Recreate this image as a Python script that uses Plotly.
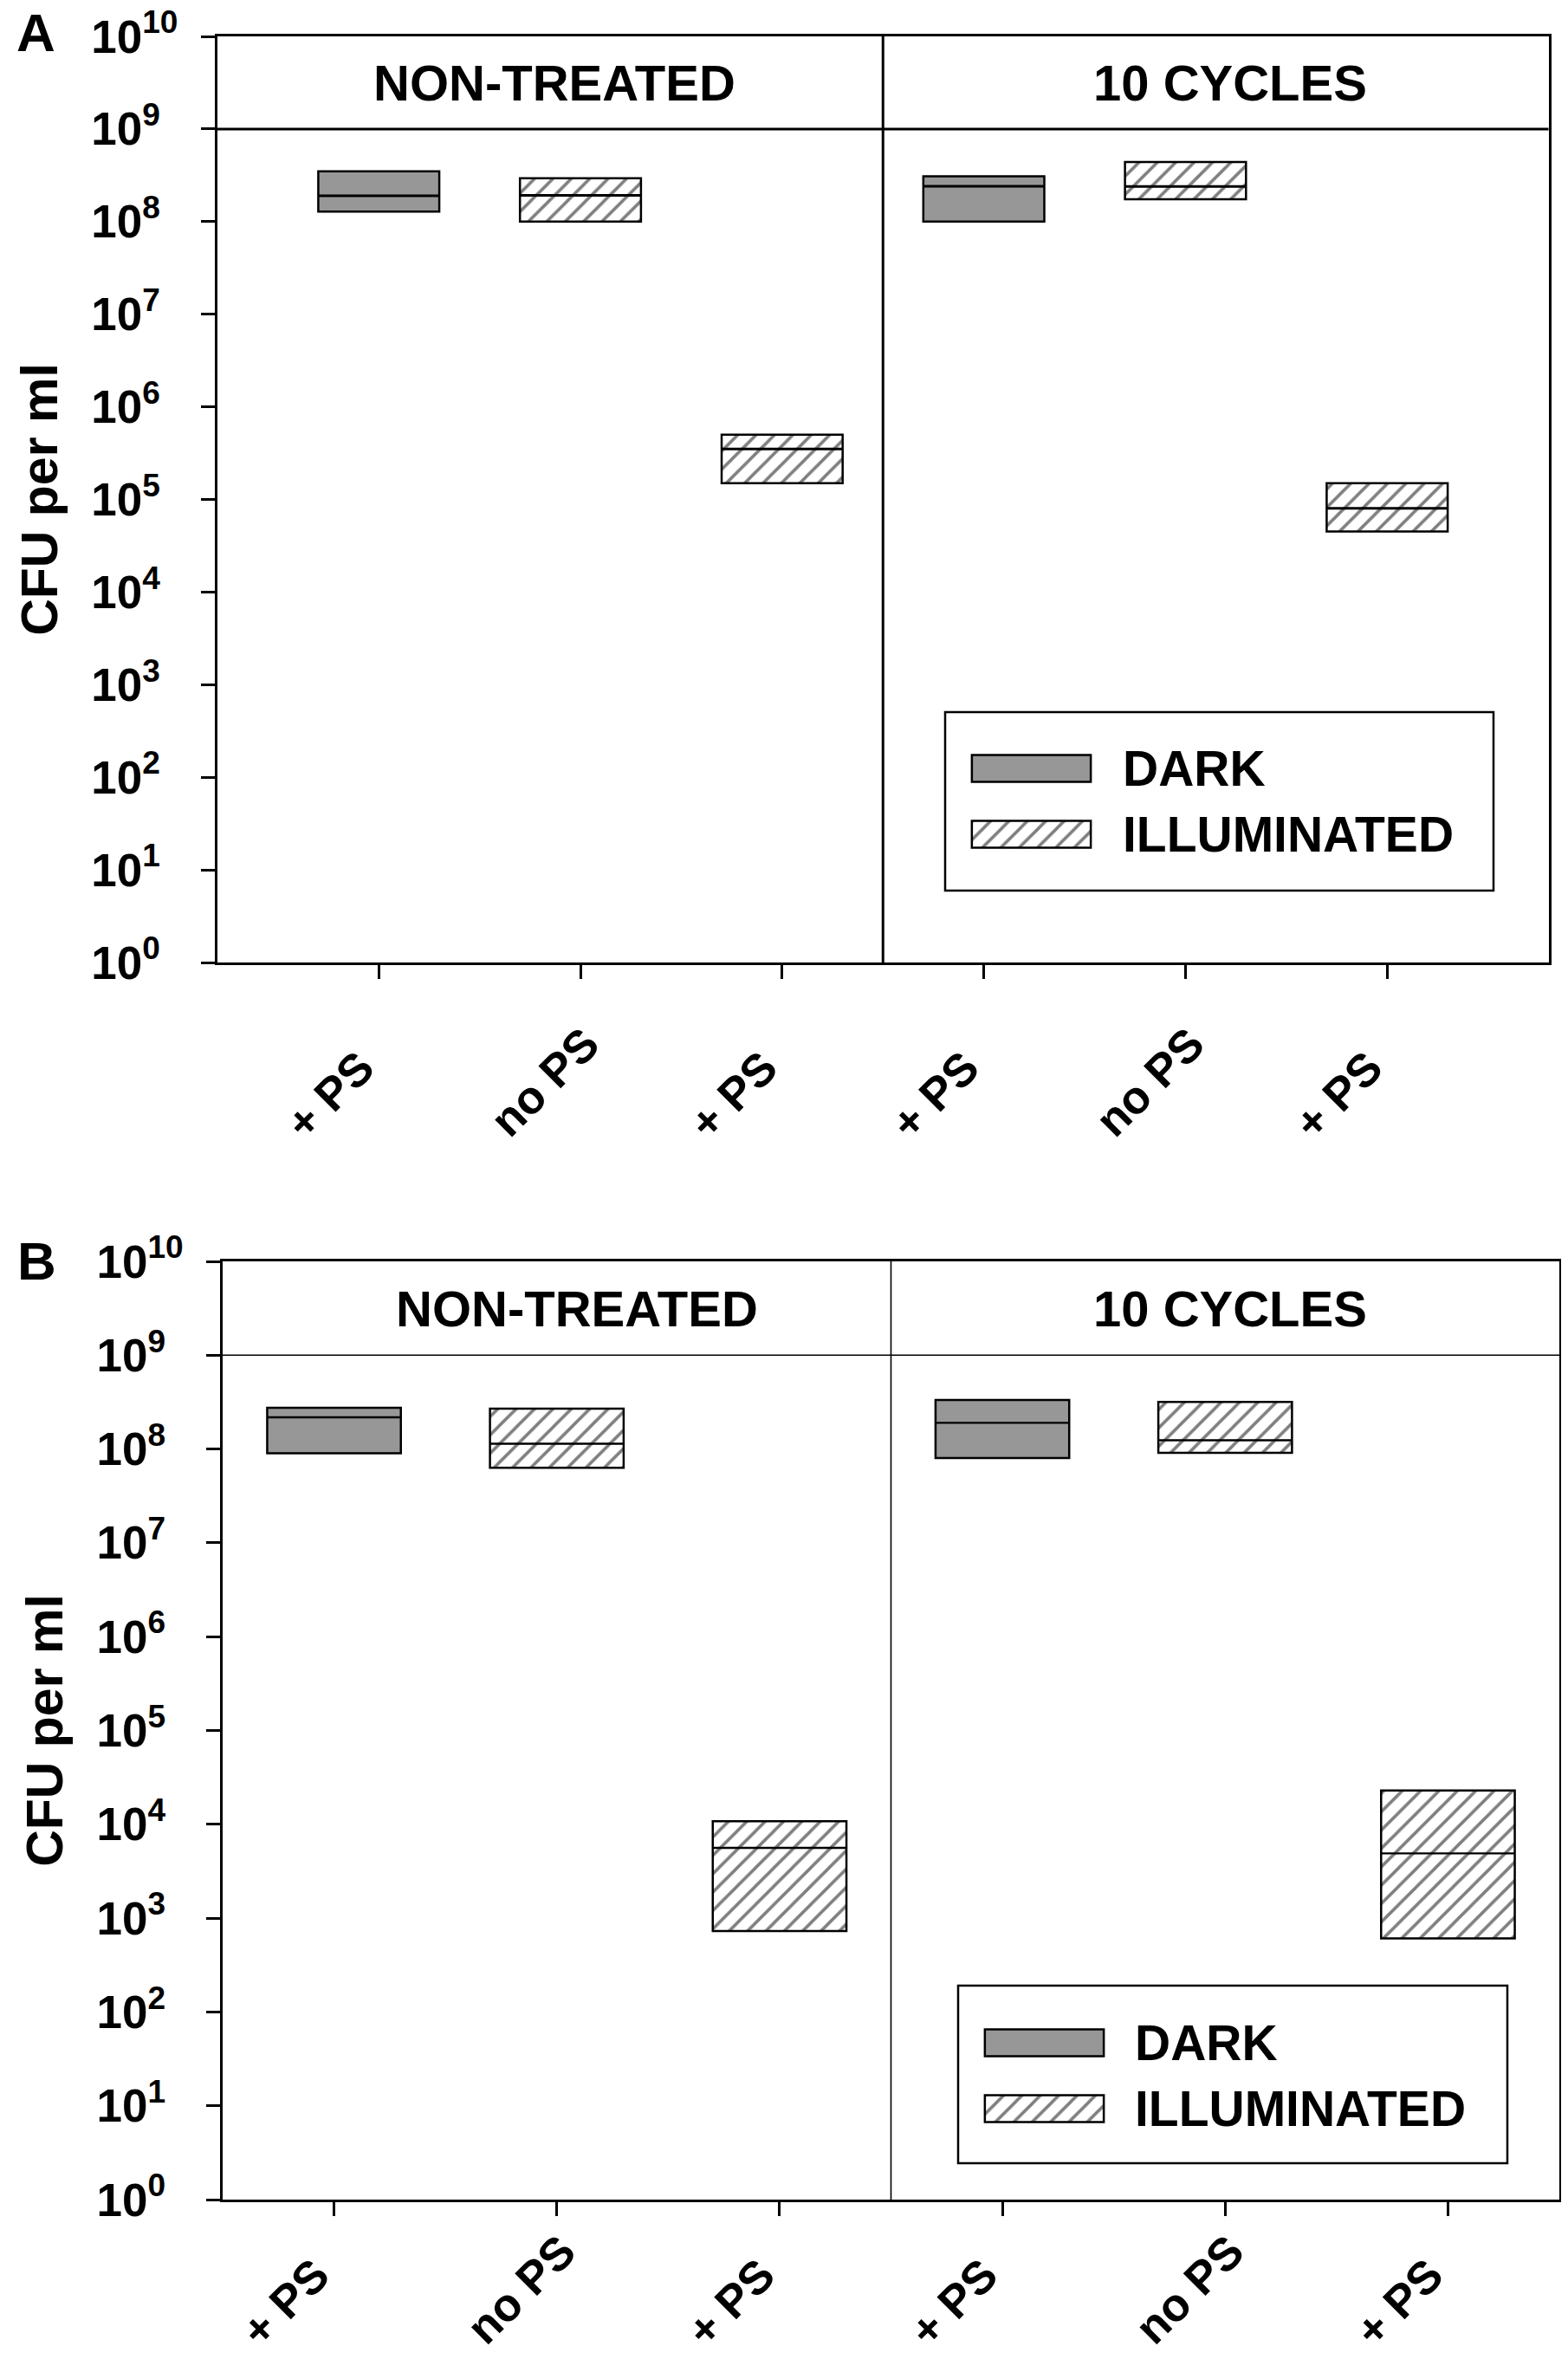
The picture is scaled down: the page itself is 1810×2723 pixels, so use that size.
import plotly.graph_objects as go

# categories and groups
positions = [1, 2, 3, 4, 5, 6]
tick_labels = ['+ PS', 'no PS', '+ PS', '+ PS', 'no PS', '+ PS']
condition = ['dark', 'light', 'light', 'dark', 'light', 'light']
group_names = ['NON-TREATED', '10 CYCLES']
legend_names = ['DARK', 'ILLUMINATED']
y_exponents = list(range(0, 11))

# panel A: low / median / high (CFU per ml)
a_low = [1.28e8, 1.0e8, 1.5e5, 1.0e8, 1.74e8, 4.5e4]
a_med = [1.9e8, 1.92e8, 3.5e5, 2.41e8, 2.4e8, 8.0e4]
a_high = [3.5e8, 2.94e8, 5.0e5, 3.08e8, 4.4e8, 1.5e5]

# panel B
b_low = [9.0e7, 6.3e7, 730, 8.0e7, 9.1e7, 607]
b_med = [2.18e8, 1.14e8, 5.6e3, 1.9e8, 1.24e8, 4.9e3]
b_high = [2.75e8, 2.7e8, 1.08e4, 3.34e8, 3.18e8, 2.29e4]

# page is 1810x2723, the html body keeps its default 8px margin
PAGE_W, PAGE_H = 1810, 2723
OFF = 8
W, H = PAGE_W - 2 * OFF, PAGE_H - 2 * OFF
FONT = 'Liberation Sans, Arial, sans-serif'
GRAY = '#979797'
BOX_W = 0.6


def fx(p):
    return (p - OFF) / W


def fy(p):
    return 1 - (p - OFF) / H


fig = go.Figure()

panels = [
    dict(label='A', xa='x', ya='y', low=a_low, med=a_med, high=a_high,
         xdom=(251, 1787.5), ydom=(42, 1111), xr=[0.2, 6.8], lw=3, inner=3, mlw=3,
         head_x=[0.253, 0.761], lab=(41, 37), standoff=23,
         leg_ax=('x3', 'y3'), leg_xdom=(1115, 1266), leg_ydom=(849, 1001),
         leg_box=(1091, 822, 1724, 1028), leg_text_x=1294, leg_text_y=(887, 963)),
    dict(label='B', xa='x2', ya='y2', low=b_low, med=b_med, high=b_high,
         xdom=(257, 1800), ydom=(1456, 2539), xr=[0.5, 6.5], lw=2.5, inner=1.6, mlw=2.4,
         head_x=[0.265, 0.7535], lab=(42, 1455), standoff=-11,
         leg_ax=('x4', 'y4'), leg_xdom=(1130, 1281), leg_ydom=(2320, 2472),
         leg_box=(1106, 2292, 1740, 2497), leg_text_x=1308, leg_text_y=(2358, 2434)),
]

styles = {
    'dark': dict(color=GRAY, pattern=dict(shape='')),
    'light': dict(color='white', pattern=dict(shape='/', size=15, solidity=0.24,
                                               fgcolor='black', bgcolor='white')),
}

# short labels sit a little further down-left of their tick, as in the source
xtext = [t + '\u2007\u2006' if t.startswith('+') else t for t in tick_labels]

shapes = []
annotations = []

for n, p in enumerate(panels):
    for cond in ['dark', 'light']:
        idx = [i for i, c in enumerate(condition) if c == cond]
        fig.add_trace(go.Bar(
            x=[positions[i] for i in idx],
            y=[p['high'][i] - p['low'][i] for i in idx],
            base=[p['low'][i] for i in idx],
            width=BOX_W,
            marker=dict(color=styles[cond]['color'], pattern=styles[cond]['pattern'],
                        line=dict(color='black', width=2.5)),
            xaxis=p['xa'], yaxis=p['ya'], showlegend=False, hoverinfo='skip'))

    mx, my = [], []
    for i, pos in enumerate(positions):
        mx += [pos - BOX_W / 2, pos + BOX_W / 2, None]
        my += [p['med'][i], p['med'][i], None]
    fig.add_trace(go.Scatter(x=mx, y=my, mode='lines',
                             line=dict(color='black', width=p['mlw']),
                             xaxis=p['xa'], yaxis=p['ya'], showlegend=False, hoverinfo='skip'))

    # header line at 10^9 and divider between groups
    shapes.append(dict(type='line', xref=p['xa'] + ' domain', x0=0, x1=1,
                       yref=p['ya'], y0=1e9, y1=1e9,
                       line=dict(color='black', width=p['inner'])))
    shapes.append(dict(type='line', xref=p['xa'], x0=3.5, x1=3.5,
                       yref=p['ya'] + ' domain', y0=0, y1=1,
                       line=dict(color='black', width=p['inner'])))

    for g, name in enumerate(group_names):
        annotations.append(dict(text=name, xref=p['xa'] + ' domain', yref=p['ya'] + ' domain',
                                x=p['head_x'][g], y=0.95, showarrow=False,
                                xanchor='center', yanchor='middle',
                                font=dict(family=FONT, size=58, color='black', weight='bold')))

    annotations.append(dict(text=p['label'], xref='paper', yref='paper',
                            x=fx(p['lab'][0]), y=fy(p['lab'][1]), showarrow=False,
                            xanchor='center', yanchor='middle',
                            font=dict(family=FONT, size=62, color='black', weight='bold')))

    # hand-built legend: swatches on their own small axes
    lxa, lya = p['leg_ax']
    for k, cond in enumerate(['dark', 'light']):
        fig.add_trace(go.Bar(
            x=[1], y=[1 - k], base=[0], orientation='h', width=0.41,
            marker=dict(color=styles[cond]['color'], pattern=styles[cond]['pattern'],
                        line=dict(color='black', width=2.5)),
            xaxis=lxa, yaxis=lya, showlegend=False, hoverinfo='skip'))
        annotations.append(dict(text=legend_names[k], xref='paper', yref='paper',
                                x=fx(p['leg_text_x']), y=fy(p['leg_text_y'][k]),
                                showarrow=False, xanchor='left', yanchor='middle',
                                font=dict(family=FONT, size=57, color='black', weight='bold')))
    b = p['leg_box']
    shapes.append(dict(type='rect', xref='paper', yref='paper',
                       x0=fx(b[0]), x1=fx(b[2]), y0=fy(b[3]), y1=fy(b[1]),
                       line=dict(color='black', width=2.5), fillcolor='rgba(0,0,0,0)'))

    xkey = 'xaxis' if n == 0 else 'xaxis2'
    ykey = 'yaxis' if n == 0 else 'yaxis2'
    ytext = []
    for e in y_exponents:
        sup = str(e) if e >= 10 else str(e) + '\u2007'
        ytext.append('10<sup>' + sup + '</sup>')
    fig.update_layout(**{
        xkey: dict(domain=[fx(p['xdom'][0]), fx(p['xdom'][1])], range=p['xr'],
                   anchor=p['ya'], showline=True, mirror=True, linecolor='black',
                   linewidth=p['lw'], ticks='outside', ticklen=16, tickwidth=2.5,
                   tickcolor='black', tickvals=positions, ticktext=xtext,
                   tickangle=-45, ticklabelstandoff=p['standoff'], ticklabelshift=6,
                   ticklabeloverflow='allow', automargin=False,
                   tickfont=dict(family=FONT, size=53, color='black', weight='bold'),
                   showgrid=False, zeroline=False, fixedrange=True),
        ykey: dict(domain=[fy(p['ydom'][1]), fy(p['ydom'][0])], type='log', range=[0, 10],
                   anchor=p['xa'], showline=True, mirror=True, linecolor='black',
                   linewidth=p['lw'], ticks='outside', ticklen=16, tickwidth=2.5,
                   tickcolor='black', tickvals=[10 ** e for e in y_exponents],
                   ticktext=ytext, ticklabelstandoff=16, automargin=False,
                   ticklabeloverflow='allow',
                   tickfont=dict(family=FONT, size=53, color='black', weight='bold'),
                   title=dict(text='CFU per ml', standoff=20,
                              font=dict(family=FONT, size=59, color='black', weight='bold')),
                   showgrid=False, zeroline=False, fixedrange=True),
    })
    lxkey = 'xaxis' + lxa[1:]
    lykey = 'yaxis' + lya[1:]
    fig.update_layout(**{
        lxkey: dict(domain=[fx(p['leg_xdom'][0]), fx(p['leg_xdom'][1])], range=[-0.05, 1.05],
                    anchor=lya, visible=False, fixedrange=True, automargin=False),
        lykey: dict(domain=[fy(p['leg_ydom'][1]), fy(p['leg_ydom'][0])], range=[-0.5, 1.5],
                    anchor=lxa, visible=False, fixedrange=True, automargin=False),
    })

fig.update_layout(width=W, height=H, autosize=False, barmode='overlay',
                  margin=dict(l=0, r=0, t=0, b=0, pad=0, autoexpand=False),
                  paper_bgcolor='white', plot_bgcolor='white',
                  shapes=shapes, annotations=annotations,
                  font=dict(family=FONT, color='black'))

fig.write_html('out.html')
